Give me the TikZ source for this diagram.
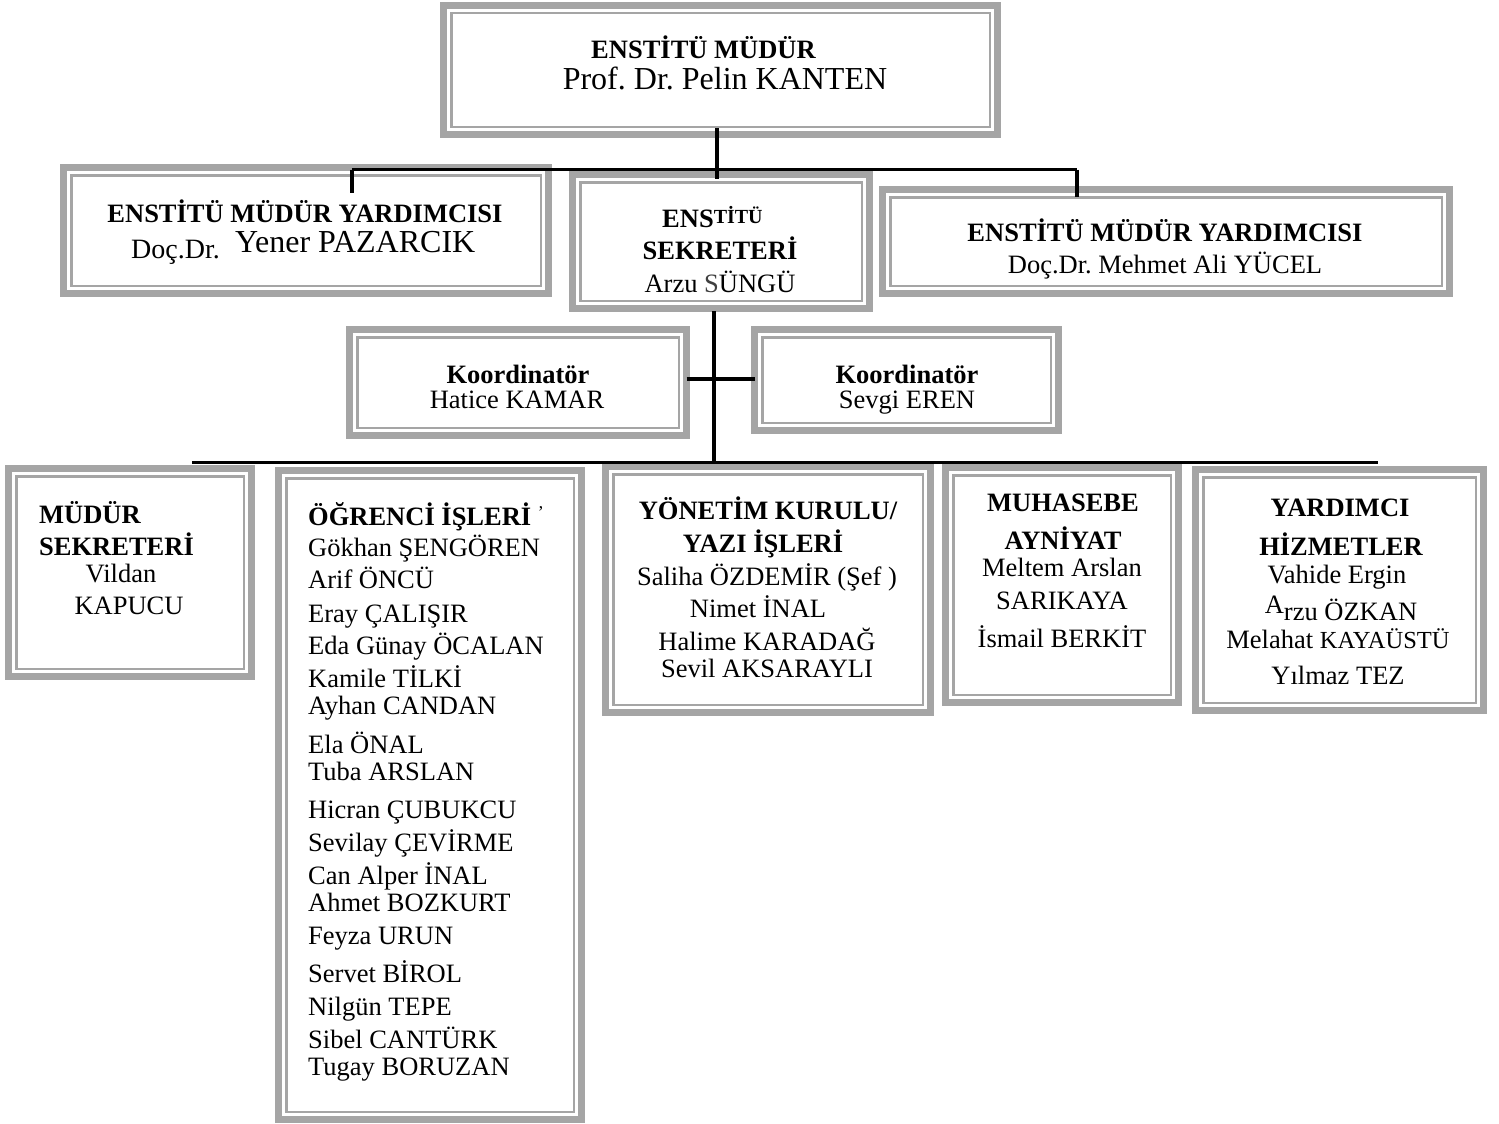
\documentclass[tikz,border=0pt]{standalone}
\usepackage{fontspec}
\setmainfont{Liberation Serif}
\frenchspacing
\definecolor{bandgray}{RGB}{165,165,165}
\tikzset{
  framebox/.style={draw=bandgray, line width=7pt, inner sep=0pt, outer sep=0pt, fill=white},
  innerline/.style={draw=bandgray, line width=2.5pt},
  conn/.style={draw=black, line width=3.5pt},
  txt/.style={inner sep=0pt, anchor=base, font=\fontsize{26.5}{30}\selectfont},
  btxt/.style={txt, font=\bfseries\fontsize{26.5}{30}\selectfont},
  ltxt/.style={txt, anchor=base west},
  lbtxt/.style={btxt, anchor=base west},
  bigtxt/.style={txt, font=\fontsize{32}{36}\selectfont}
}
\newcommand{\orgbox}[5]{%
  \node[framebox, minimum width={#4-#2-7}, minimum height={#5-#3-7}] (#1) at ({(#2+#4)/2},{(#3+#5)/2}) {};
  \draw[innerline] ([shift={(7.75pt,-7.75pt)}]#1.north west) rectangle ([shift={(-7.75pt,7.75pt)}]#1.south east);
}
\begin{document}
\begin{tikzpicture}[x=1pt,y=-1pt]
\useasboundingbox[fill=white] (0,0) rectangle (1499,1124);

% frames
\orgbox{top}{440}{2}{1001}{138}
\orgbox{vl}{60}{164}{552}{297}
\orgbox{sec}{569}{171}{873}{312}
\orgbox{vr}{879}{186}{1453}{297}
\orgbox{kl}{346}{326}{690}{439}
\orgbox{kr}{751}{326}{1062}{434}
\orgbox{ms}{5}{465}{255}{680}
\orgbox{og}{275}{467}{585}{1123}
\orgbox{yk}{602}{463}{934}{716}
\orgbox{mh}{942}{464}{1182}{706}
\orgbox{yd}{1192}{466}{1487}{714}

% connector points
\coordinate (t1) at (717,128);
\coordinate (s1) at (717,179);
\coordinate (hl) at (352,169.5);
\coordinate (hr) at (1077,169.5);
\coordinate (dl) at (352,193);
\coordinate (dr) at (1077,197);
\coordinate (s2) at (714,311);
\coordinate (b1) at (714,463);
\coordinate (ky) at (0,379);
\coordinate (bl) at (192,462.7);
\coordinate (br) at (1378,462.7);

% connectors
\draw[conn] (t1) -- (s1);
\draw[conn] (hl) -- (hr);
\draw[conn] (hl) -- (dl);
\draw[conn] (hr) -- (dr);
\draw[conn] (s2) -- (b1);
\draw[conn] (kl.east |- ky) -- (kr.west |- ky);
\draw[conn] (bl) -- (br);

% top
\node[btxt] (t_a) at (703.5,59) {ENSTİTÜ MÜDÜR};
\node[bigtxt] (t_b) at (725,89) {Prof. Dr. Pelin KANTEN};

% left vice
\node[btxt] (vl_a) at (305,222) {ENSTİTÜ MÜDÜR YARDIMCISI};
\node[ltxt, font=\fontsize{28}{30}\selectfont] (vl_b) at (131,258) {Doç.Dr.};
\node[bigtxt, anchor=base west] (vl_c) at (235,252) {Yener PAZARCIK};

% secretary
\node[lbtxt] (sc_a) at (662,227) {ENS\raisebox{4pt}{\fontsize{20}{20}\selectfont TİTÜ}};
\node[btxt] (sc_b) at (720,259) {SEKRETERİ};
\node[txt] (sc_c) at (720,292) {Arzu {\color{black!75}S}ÜNGÜ};

% right vice
\node[btxt] (vr_a) at (1165,241) {ENSTİTÜ MÜDÜR YARDIMCISI};
\node[txt] (vr_b) at (1165,273) {Doç.Dr. Mehmet Ali YÜCEL};

% coordinators
\node[btxt] (kl_a) at (518,383) {Koordinatör};
\node[txt] (kl_b) at (517,408) {Hatice KAMAR};
\node[btxt] (kr_a) at (907,383) {Koordinatör};
\node[txt] (kr_b) at (907,408) {Sevgi EREN};

% mudur sekreteri
\node[lbtxt] (ms_a) at (39,523) {MÜDÜR};
\node[lbtxt] (ms_b) at (39,555) {SEKRETERİ};
\node[txt] (ms_c) at (121,582) {Vildan};
\node[txt] (ms_d) at (129,614) {KAPUCU};

% ogrenci isleri
\node[lbtxt] (og_h) at (308,525) {ÖĞRENCİ İŞLERİ \raisebox{7pt}{\normalfont\fontsize{18}{18}\selectfont '}};
\foreach \n/\y [count=\i] in {Gökhan ŞENGÖREN/556, Arif ÖNCÜ/588, Eray ÇALIŞIR/622, Eda Günay ÖCALAN/654, Kamile TİLKİ/687, Ayhan CANDAN/714, Ela ÖNAL/753, Tuba ARSLAN/780, Hicran ÇUBUKCU/818, Sevilay ÇEVİRME/851, Can Alper İNAL/884, Ahmet BOZKURT/911, Feyza URUN/944, Servet BİROL/982, Nilgün TEPE/1015, Sibel CANTÜRK/1048, Tugay BORUZAN/1075}
  \node[ltxt] (og\i) at (308,\y) {\n};

% yonetim kurulu
\node[btxt] (yk_a) at (768,519) {YÖNETİM KURULU/};
\node[btxt] (yk_b) at (763,552) {YAZI İŞLERİ};
\node[txt] (yk_c) at (767,585) {Saliha ÖZDEMİR (Şef )};
\node[txt] (yk_d) at (758,617) {Nimet İNAL};
\node[txt] (yk_e) at (767,650) {Halime KARADAĞ};
\node[txt] (yk_f) at (767,677) {Sevil AKSARAYLI};

% muhasebe
\node[btxt] (mh_a) at (1063,511) {MUHASEBE};
\node[btxt] (mh_b) at (1063,549) {AYNİYAT};
\node[txt] (mh_c) at (1062,576) {Meltem Arslan};
\node[txt] (mh_d) at (1062,609) {SARIKAYA};
\node[txt] (mh_e) at (1062,647) {İsmail BERKİT};

% yardimci hizmetler
\node[btxt] (yd_a) at (1340,516) {YARDIMCI};
\node[btxt] (yd_b) at (1341,555) {HİZMETLER};
\node[txt] (yd_c) at (1337,583) {Vahide Ergin};
\node[txt] (yd_d) at (1341,620) {\raisebox{7pt}{A}rzu ÖZKAN};
\node[txt] (yd_e) at (1338,648) {Melahat {\fontsize{24.5}{26}\selectfont KAYAÜSTÜ}};
\node[txt] (yd_f) at (1338,684) {Yılmaz TEZ};
\end{tikzpicture}
\end{document}
